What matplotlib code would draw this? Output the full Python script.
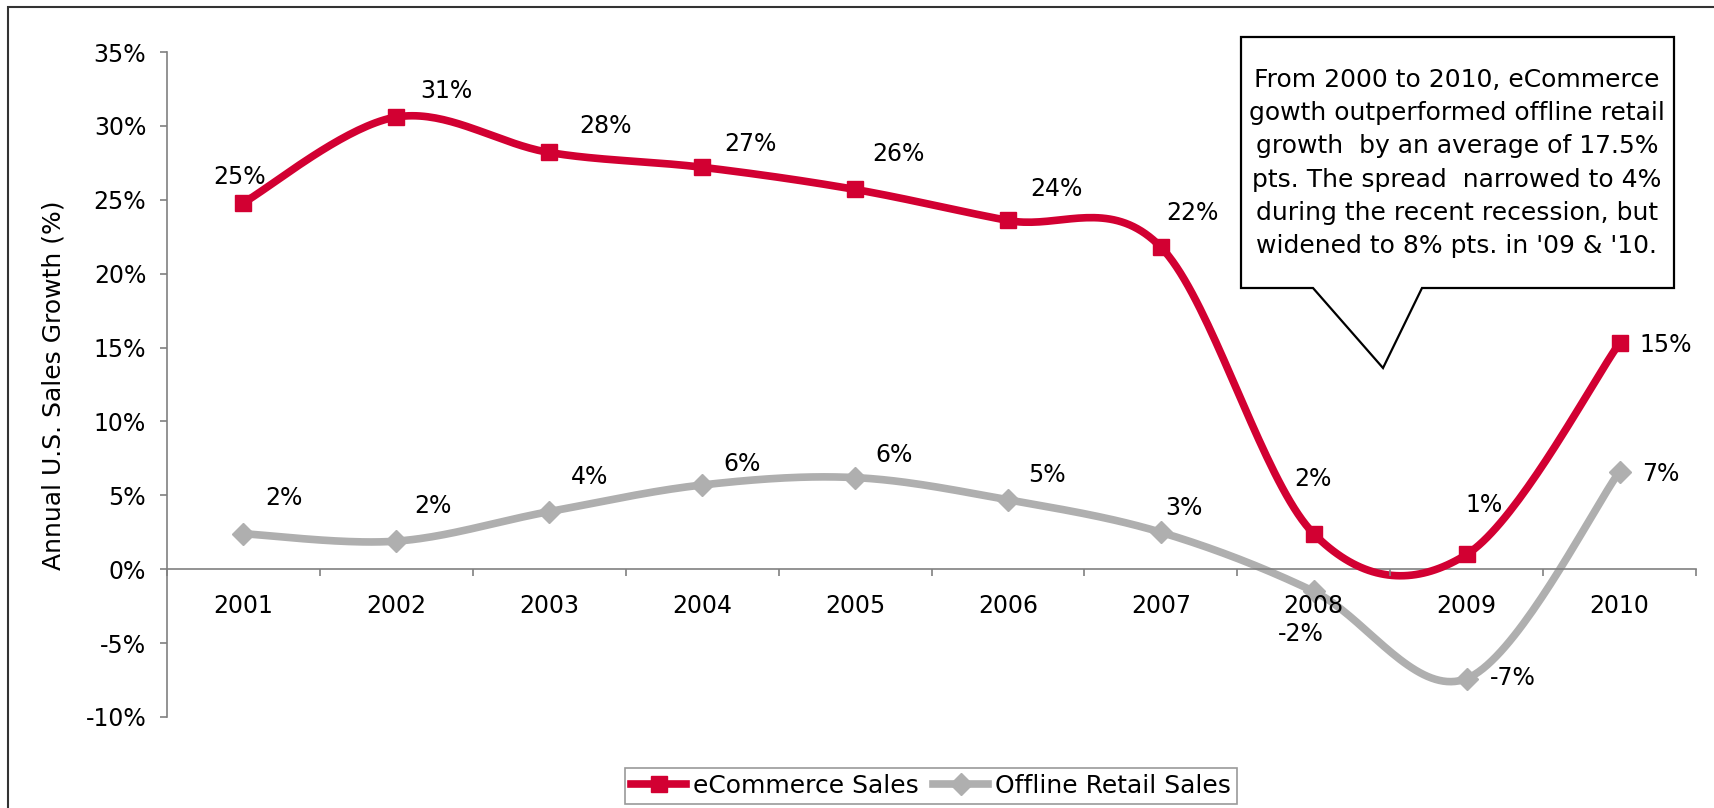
import numpy as np
import matplotlib.pyplot as plt
from matplotlib.patches import Polygon, Rectangle
from matplotlib.lines import Line2D

years = ['2001', '2002', '2003', '2004', '2005', '2006', '2007', '2008', '2009', '2010']
ecommerce = [24.8, 30.6, 28.2, 27.2, 25.7, 23.6, 21.8, 2.4, 1.0, 15.3]
offline = [2.4, 1.9, 3.9, 5.7, 6.2, 4.7, 2.5, -1.5, -7.4, 6.6]
ecommerce_labels = ['25%', '31%', '28%', '27%', '26%', '24%', '22%', '2%', '1%', '15%']
offline_labels = ['2%', '2%', '4%', '6%', '6%', '5%', '3%', '-2%', '-7%', '7%']

# label offsets from each marker, in pixels
ecom_off = [(-4, 26), (50, 26), (56, 26), (48, 23), (43, 35), (48, 31), (32, 34),
            (-1, 55), (17, 49), (46, -2)]
off_off = [(40, 36), (37, 35), (40, 35), (40, 21), (39, 23), (39, 25), (23, 24),
           (-13, -43), (46, 1), (41, -2)]

RED = '#D20032'
GREY = '#AFAFAF'
FS = 17
plt.rcParams['font.family'] = ['DejaVu Sans']


def smooth(x, y, n=40):
    # bezier smoothing with control points at 1/6 of the neighbour chord
    x = np.asarray(x, float)
    y = np.asarray(y, float)
    px = np.concatenate([[x[0]], x, [x[-1]]])
    py = np.concatenate([[y[0]], y, [y[-1]]])
    xs, ys = [], []
    t = np.linspace(0, 1, n)
    for i in range(1, len(px) - 2):
        p0 = np.array([px[i], py[i]])
        p3 = np.array([px[i + 1], py[i + 1]])
        c1 = p0 + (np.array([px[i + 1], py[i + 1]]) - np.array([px[i - 1], py[i - 1]])) / 6
        c2 = p3 - (np.array([px[i + 2], py[i + 2]]) - np.array([px[i], py[i]])) / 6
        b = ((1 - t) ** 3)[:, None] * p0 + (3 * (1 - t) ** 2 * t)[:, None] * c1 \
            + (3 * (1 - t) * t ** 2)[:, None] * c2 + (t ** 3)[:, None] * p3
        xs.append(b[:, 0])
        ys.append(b[:, 1])
    return np.concatenate(xs), np.concatenate(ys)


fig = plt.figure(figsize=(17.15, 8.08), dpi=100)
ax = fig.add_axes([167 / 1715, 1 - 717 / 808, (1696 - 167) / 1715, 665 / 808])

xpos = np.arange(len(years))
sx, sy = smooth(xpos, offline)
ax.plot(sx, sy, color=GREY, lw=5.5, solid_capstyle='round', zorder=2)
ax.plot(xpos, offline, ls='none', marker='D', ms=11, color=GREY, zorder=3)
sx, sy = smooth(xpos, ecommerce)
ax.plot(sx, sy, color=RED, lw=5.5, solid_capstyle='round', zorder=4)
ax.plot(xpos, ecommerce, ls='none', marker='s', ms=12, color=RED, zorder=5)

for i in range(len(years)):
    ax.annotate(ecommerce_labels[i], (xpos[i], ecommerce[i]), xytext=ecom_off[i],
                textcoords='offset pixels', ha='center', va='center', fontsize=FS)
    ax.annotate(offline_labels[i], (xpos[i], offline[i]), xytext=off_off[i],
                textcoords='offset pixels', ha='center', va='center', fontsize=FS)

ax.set_xlim(-0.5, len(years) - 0.5)
ax.set_ylim(-10, 35)
ax.set_yticks(np.arange(-10, 36, 5))
ax.set_yticklabels([f'{v}%' for v in range(-10, 36, 5)])
ax.tick_params(axis='y', direction='out', length=5, width=1.2, color='#808080', pad=10,
               labelsize=FS)

# category boundaries carry the tick marks, centres carry the year labels
ax.set_xticks(np.arange(-0.5, len(years), 1.0))
ax.set_xticklabels([])
ax.set_xticks(xpos, minor=True)
ax.set_xticklabels(years, minor=True)
ax.tick_params(axis='x', which='major', direction='out', length=5, width=1.2, color='#808080')
ax.tick_params(axis='x', which='minor', length=0, pad=18, labelsize=FS)
ax.xaxis.set_zorder(6)

for s in ['top', 'right']:
    ax.spines[s].set_visible(False)
ax.spines['left'].set_color('#808080')
ax.spines['left'].set_linewidth(1.2)
ax.spines['bottom'].set_position(('data', 0))
ax.spines['bottom'].set_color('#808080')
ax.spines['bottom'].set_linewidth(1.2)
ax.patch.set_visible(False)

fig.text(54 / 1715, 1 - 385 / 808, 'Annual U.S. Sales Growth (%)', rotation=90,
         ha='center', va='center', fontsize=18)

# callout box with pointer
pts = [(1241, 37), (1674, 37), (1674, 288), (1422, 288), (1383, 368), (1313, 288), (1241, 288)]
callout = Polygon([(x / 1715, 1 - y / 808) for x, y in pts], closed=True,
                  transform=fig.transFigure, facecolor='white', edgecolor='black', lw=1.6,
                  zorder=10)
fig.patches.append(callout)
fig.text(1457 / 1715, 1 - 163 / 808,
         "From 2000 to 2010, eCommerce\ngowth outperformed offline retail\n"
         "growth  by an average of 17.5%\npts. The spread  narrowed to 4%\n"
         "during the recent recession, but\nwidened to 8% pts. in '09 & '10.",
         ha='center', va='center', fontsize=18, linespacing=1.49, zorder=11)

# outer frame (left and top edges show)
fig.patches.append(Rectangle((8 / 1715, -0.5), 2, 0.5 + 1 - 7 / 808, transform=fig.transFigure,
                             fill=False, edgecolor='#333333', lw=1.5))

handles = [Line2D([], [], color=RED, lw=5.5, marker='s', ms=12),
           Line2D([], [], color=GREY, lw=5.5, marker='D', ms=11)]
leg = fig.legend(handles, ['eCommerce Sales', 'Offline Retail Sales'], loc='center',
                 bbox_to_anchor=(931 / 1715, 1 - 786 / 808), ncol=2, fontsize=18,
                 frameon=True, fancybox=False, handlelength=2.2, handletextpad=0.25,
                 columnspacing=0.6, borderpad=0.25, borderaxespad=0)
leg.get_frame().set_edgecolor('#808080')
leg.get_frame().set_linewidth(1.2)

fig.savefig('out.png', dpi=100)
